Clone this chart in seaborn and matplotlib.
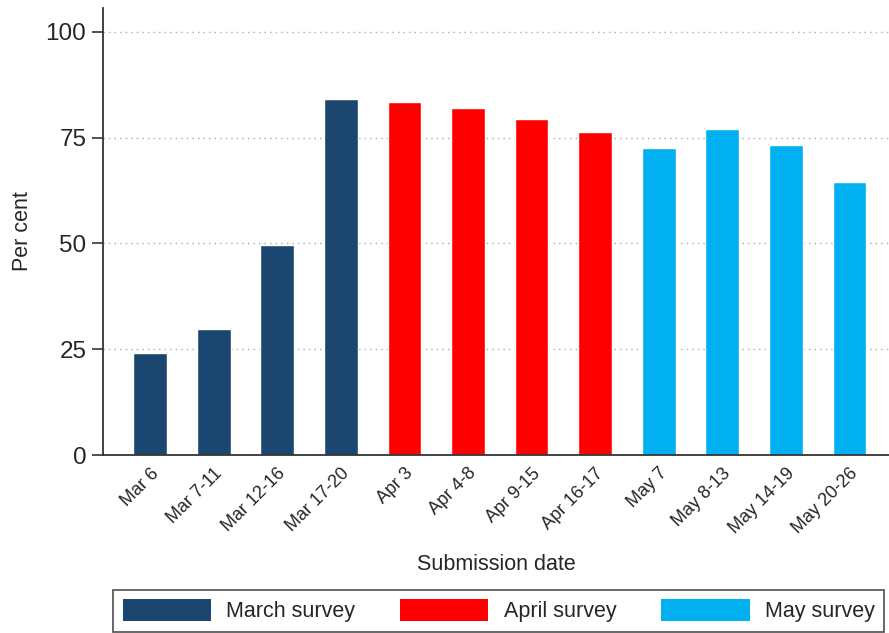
import matplotlib
matplotlib.use("Agg")
import matplotlib.pyplot as plt
import seaborn as sns
import pandas as pd
from matplotlib.patches import Patch

categories = ["Mar 6", "Mar 7-11", "Mar 12-16", "Mar 17-20",
              "Apr 3", "Apr 4-8", "Apr 9-15", "Apr 16-17",
              "May 7", "May 8-13", "May 14-19", "May 20-26"]
values = [24.1, 29.8, 49.6, 84.2, 83.3, 82.0, 79.4, 76.4, 72.6, 77.1, 73.3, 64.5]
surveys = ["March survey"] * 4 + ["April survey"] * 4 + ["May survey"] * 4
survey_order = ["March survey", "April survey", "May survey"]
colors = ["#1B466F", "#FF0000", "#00B0F0"]

df = pd.DataFrame({"date": categories, "value": values, "survey": surveys})

sns.set_theme(style="white")
plt.rcParams["font.family"] = ["Liberation Sans", "DejaVu Sans"]

fig = plt.figure(figsize=(8.89, 6.33), dpi=100)
ax = fig.add_axes([0.1159, 0.2812, 0.884, 0.706])

sns.barplot(data=df, x="date", y="value", hue="survey", hue_order=survey_order,
            palette=colors, dodge=False, width=0.53, order=categories,
            saturation=1, ax=ax, legend=False)

ax.set_ylim(0, 105.6)
ax.set_xlim(-0.74, 11.62)
ax.set_yticks([0, 25, 50, 75, 100])
ax.set_yticklabels(["0", "25", "50", "75", "100"], fontsize=17.5)
for y in [25, 50, 75, 100]:
    ax.axhline(y, color="#AAAAAA", linestyle=(0, (1, 3)), linewidth=1.0, zorder=0)

ax.set_xticks(range(len(categories)))
ax.set_xticklabels(categories, rotation=45, ha="right", rotation_mode="anchor", fontsize=13)
ax.tick_params(axis="y", which="both", left=True, length=8, width=1.2, color="#333333", pad=4)
ax.tick_params(axis="x", bottom=False, pad=1)

for s in ["top", "right"]:
    ax.spines[s].set_visible(False)
for s in ["left", "bottom"]:
    ax.spines[s].set_color("#333333")
    ax.spines[s].set_linewidth(1.3)

ax.set_ylabel("Per cent", fontsize=15.5, labelpad=9)
ax.set_xlabel("Submission date", fontsize=15.5, labelpad=12)

handles = [Patch(facecolor=c, edgecolor="none", label=l) for c, l in zip(colors, survey_order)]
leg = fig.legend(handles=handles, loc="lower left", bbox_to_anchor=(113 / 889, 1 / 633),
                 ncol=3, fontsize=15.5, frameon=True, fancybox=False,
                 handlelength=4.1, handleheight=1.15, borderaxespad=0, borderpad=0.45,
                 handletextpad=0.7, columnspacing=2.1)
leg.get_frame().set_edgecolor("#333333")
leg.get_frame().set_linewidth(1.3)

fig.savefig("out.png", dpi=100)
